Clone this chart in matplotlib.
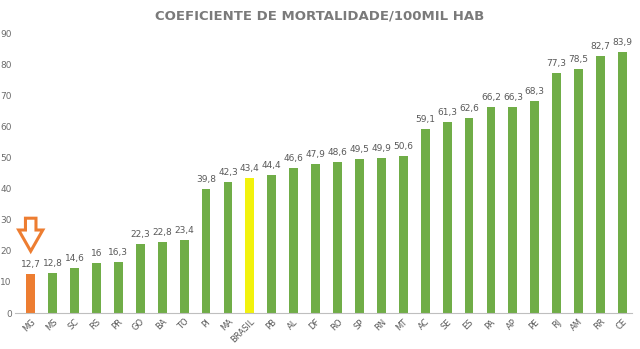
import numpy as np
import matplotlib.pyplot as plt
from matplotlib.patches import Polygon

estados = ['MG', 'MS', 'SC', 'RS', 'PR', 'GO', 'BA', 'TO', 'PI', 'MA', 'BRASIL', 'PB', 'AL', 'DF',
           'RO', 'SP', 'RN', 'MT', 'AC', 'SE', 'ES', 'PA', 'AP', 'PE', 'RJ', 'AM', 'RR', 'CE']
coef = [12.7, 12.8, 14.6, 16, 16.3, 22.3, 22.8, 23.4, 39.8, 42.3, 43.4, 44.4, 46.6, 47.9,
        48.6, 49.5, 49.9, 50.6, 59.1, 61.3, 62.6, 66.2, 66.3, 68.3, 77.3, 78.5, 82.7, 83.9]

verde = '#70AD47'
laranja = '#ED7D31'
amarelo = '#F2F20D'
cinza = '#595959'

cores = []
for e in estados:
    if e == 'MG':
        cores.append(laranja)
    elif e == 'BRASIL':
        cores.append(amarelo)
    else:
        cores.append(verde)

fig = plt.figure(figsize=(6.4, 3.49), dpi=100)
ax = fig.add_axes([0.023, 0.103, 0.965, 0.802])

x = np.arange(len(estados))
ax.bar(x, coef, width=0.4, color=cores)

for xi, v in zip(x, coef):
    txt = ('%g' % v).replace('.', ',')
    ax.text(xi, v + 1.6, txt, ha='center', va='bottom', fontsize=6.5, color=cinza)

# seta apontando para MG
seta = Polygon([(-0.24, 30.5), (0.24, 30.5), (0.24, 26.7), (0.55, 26.7), (0, 19.9),
                (-0.55, 26.7), (-0.24, 26.7)], closed=True, facecolor='white',
               edgecolor=laranja, linewidth=2.2, joinstyle='miter')
ax.add_patch(seta)

ax.set_xlim(-0.73, 27.45)
ax.set_ylim(0, 90)
ax.set_yticks(range(0, 91, 10))
ax.set_xticks(x)
ax.set_xticklabels(estados, rotation=45, ha='right', rotation_mode='anchor', fontsize=6, color=cinza)
ax.tick_params(axis='y', length=0, labelsize=6.5, labelcolor='#6b6b6b', pad=2)
ax.tick_params(axis='x', length=0, pad=3)
for s in ['top', 'right', 'left']:
    ax.spines[s].set_visible(False)
ax.spines['bottom'].set_color('#BFBFBF')

fig.text(0.5, 0.955, 'COEFICIENTE DE MORTALIDADE/100MIL HAB', ha='center', va='center',
         fontsize=9.5, fontweight='bold', color='#7a7a7a')

fig.savefig('out.png', dpi=100)
